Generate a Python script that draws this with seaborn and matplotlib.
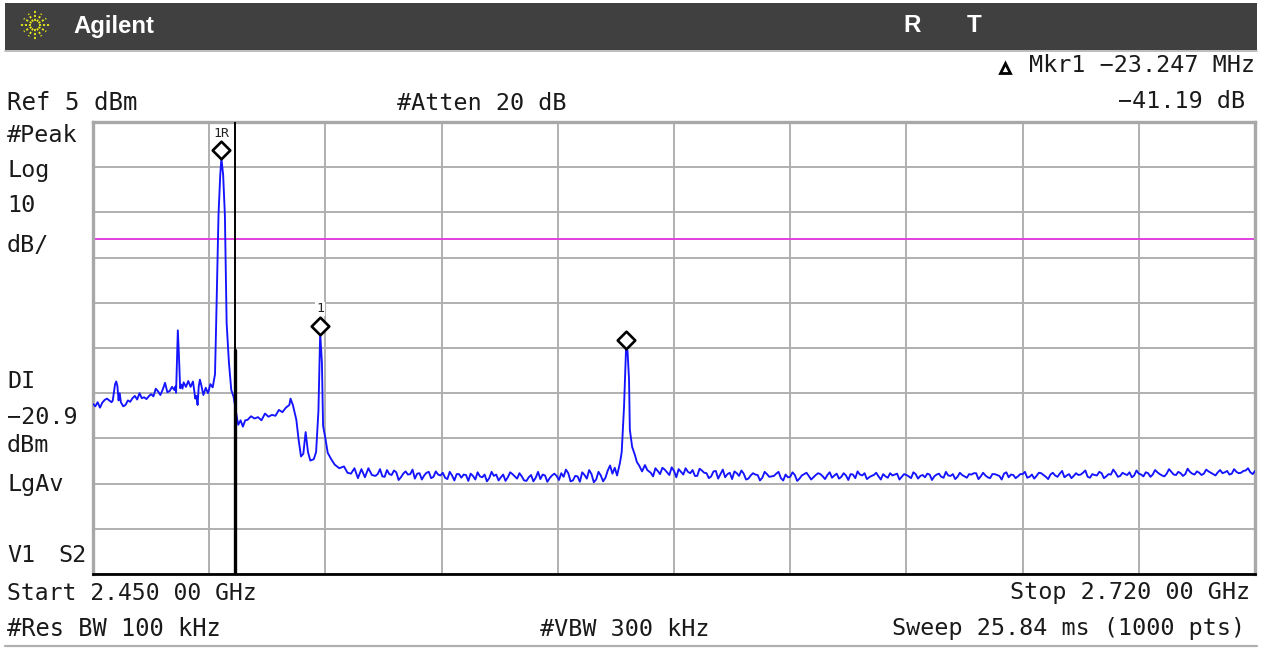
import numpy as np
import pandas as pd
import matplotlib
matplotlib.use("Agg")
import matplotlib.pyplot as plt
from matplotlib.patches import Rectangle
import seaborn as sns

# --- Data: trace, x in sweep points (0..1000), y in dBm
START_GHZ, STOP_GHZ, SWEEP_POINTS = 2.45, 2.72, 1000
REF_DBM, DB_PER_DIV, DIVS = 5, 10, 10
DISPLAY_LINE = -20.9

pedestal_pts = [0, 2, 4, 6, 8, 10, 12, 14, 16, 17, 19, 20, 21, 22, 23, 24, 26, 28, 30, 32, 34, 36, 38, 40,
                42, 44, 46, 48, 50, 52, 54, 56, 58, 60, 62, 64, 66, 68, 70, 71, 71.5, 72, 73, 74, 75, 76, 77, 78,
                80, 82, 84, 86, 87, 88, 89, 90, 91, 92, 93, 95, 97, 99, 101, 103, 105, 106, 108, 109.5, 110.5,
                112, 113.5, 115, 117, 119, 121]
pedestal_lvl = [-57.4, -57.9, -57.0, -58.2, -57.1, -56.5, -56.2, -56.6, -57.0, -56.6, -53.0, -52.4, -53.4, -56.6,
                -55.0, -57.0, -57.9, -57.6, -56.6, -56.9, -56.1, -55.6, -56.4, -55.0, -56.1, -55.9, -56.3, -55.7,
                -55.2, -55.7, -54.0, -54.6, -55.4, -54.2, -52.7, -54.8, -54.5, -53.6, -54.3, -53.5, -54.9,
                -50.0, -41.1, -47.0, -53.9, -53.1, -54.0, -52.6, -53.6, -52.3, -53.6, -52.4, -54.2, -56.2, -55.6,
                -57.6, -53.5, -52.0, -53.0, -55.4, -53.8, -55.0, -53.0, -53.7, -50.8, -39.5, -15.6, -6.7, -3.0,
                -6.7, -15.6, -39.5, -48.3, -54.3, -55.8]
shoulder_pts = [124, 125, 127, 129, 131, 133, 136, 139, 142, 145, 148, 151, 154, 157, 160, 163, 166, 169, 170,
                172, 175, 177, 179, 181, 183, 185, 187, 190, 192, 194, 195.5, 197, 198, 200, 202, 205, 208, 212,
                216, 219, 222, 225, 228, 231, 234, 237, 240, 243]
shoulder_lvl = [-60.6, -62.0, -61.0, -62.4, -61.0, -60.9, -60.1, -60.6, -60.3, -61.0, -59.5, -60.2, -59.8, -60.0,
                -58.7, -59.2, -58.2, -57.6, -56.2, -57.6, -60.9, -65.4, -69.0, -68.4, -63.6, -68.0, -69.9, -69.6,
                -68.0, -58.9, -41.7, -48.2, -62.2, -65.0, -68.2, -69.6, -70.8, -71.6, -71.2, -72.6, -72.8, -71.6,
                -73.8, -71.8, -73.6, -71.6, -73.1, -73.3]
floor_a_pts = np.arange(245, 445, 4)
floor_a_lvl = [-72.9, -73.4, -72.0, -73.1, -72.5, -73.6, -72.3, -72.9, -73.9, -72.7, -73.2, -72.4, -73.5, -73.0,
               -72.6, -74.0, -73.2, -72.9, -73.7, -73.1, -72.8, -74.1, -73.4, -73.0, -73.8, -73.3, -74.3, -73.0,
               -73.6, -72.9, -73.9, -73.4, -74.4, -73.1, -73.7, -74.0, -73.2, -73.8, -72.8, -74.2, -73.5, -72.7,
               -74.3, -73.4, -72.5, -73.9, -72.9, -74.1, -73.2, -73.7]
floor_a2_pts = np.arange(247, 445, 4)
floor_a2_lvl = [-71.8, -73.5, -72.9, -72.1, -74.2, -72.8, -73.0, -71.9, -72.8, -74.1, -72.6, -73.8, -72.3, -73.2,
                -73.7, -72.4, -74.3, -72.9, -73.0, -74.4, -73.3, -72.5, -73.6, -74.5, -72.4, -73.0, -73.6, -74.4,
                -72.5, -73.4, -72.7, -74.3, -73.6, -74.5, -72.4, -73.0, -74.6, -73.2, -73.3, -72.7, -71.9, -74.5,
                -73.3, -74.6, -73.1, -72.0, -74.7, -72.4, -74.5, -72.1]
peak2_pts = [445, 447, 449, 451, 453.5, 455, 457, 458.7, 460, 461.3, 462, 464, 466.4, 468, 470, 472.5, 475, 477]
peak2_lvl = [-71.0, -72.8, -71.5, -73.2, -70.4, -68.0, -58.0, -45.4, -45.6, -52.0, -63.1, -66.9, -68.7, -70.2,
             -71.0, -72.3, -70.9, -72.0]
floor_b_pts = np.arange(480, 1000, 4)
floor_b_lvl = [-72.6, -71.6, -72.9, -71.9, -73.1, -72.2, -71.8, -73.0, -72.4, -72.0, -73.3, -72.1, -72.7, -73.4,
               -72.2, -72.9, -73.6, -72.6, -72.3, -73.3, -72.8, -73.9, -72.7, -73.1, -73.7, -72.9, -73.4, -72.8,
               -73.8, -73.0, -73.5, -73.1, -73.9, -72.9, -73.3, -73.6, -72.7, -73.4, -73.1, -73.7, -72.8, -73.5,
               -73.2, -72.9, -73.8, -73.0, -72.7, -73.6, -73.1, -73.4, -72.9, -73.7, -73.2, -72.8, -73.5, -73.1,
               -73.8, -72.9, -73.3, -73.6, -73.0, -73.4, -72.8, -73.7, -73.2, -72.9, -73.5, -73.1, -73.7, -73.0,
               -72.7, -73.4, -73.2, -73.8, -72.9, -73.3, -72.8, -73.6, -73.1, -73.4, -72.9, -73.7, -73.0, -73.3,
               -72.7, -73.5, -73.0, -73.2, -72.8, -73.6, -72.9, -73.3, -73.1, -72.6, -73.5, -72.9, -73.2, -72.7,
               -73.4, -73.0, -72.6, -73.3, -72.9, -72.5, -73.2, -72.8, -73.4, -72.7, -73.0, -72.5, -73.2, -72.8,
               -72.4, -73.1, -72.7, -72.9, -72.4, -73.0, -72.6, -72.8, -72.3, -72.9, -72.5, -72.7, -72.2, -72.8,
               -72.4, -72.6, -72.1, -72.5]
floor_b2_pts = np.arange(482, 1000, 4)
floor_b2_lvl = [-73.4, -72.2, -71.5, -72.5, -71.4, -73.6, -72.4, -71.6, -72.7, -73.3, -71.7, -72.6, -73.8, -72.3,
                -73.9, -71.9, -72.9, -74.0, -72.7, -72.1, -74.1, -73.2, -73.0, -74.3, -72.4, -73.5, -73.3, -72.4,
                -74.3, -73.6, -72.5, -74.4, -73.2, -72.6, -74.1, -73.1, -72.9, -74.0, -72.5, -73.2, -73.9, -72.7,
                -74.2, -73.0, -72.3, -73.2, -74.0, -73.3, -72.6, -74.1, -73.4, -72.7, -73.0, -74.1, -72.9, -73.4,
                -72.5, -73.9, -73.1, -72.8, -74.2, -73.0, -73.5, -72.4, -73.3, -74.0, -72.6, -73.4, -72.9, -72.7,
                -74.0, -72.6, -73.6, -72.9, -73.1, -74.1, -72.5, -73.0, -73.8, -72.9, -72.4, -73.5, -73.9, -72.6,
                -73.1, -74.0, -72.6, -73.5, -72.2, -73.2, -73.8, -72.7, -73.0, -72.1, -73.7, -73.1, -72.4, -73.8,
                -72.9, -71.9, -73.5, -72.6, -73.1, -73.6, -72.1, -73.0, -72.5, -73.5, -72.0, -72.9, -73.4, -71.8,
                -73.0, -72.4, -73.3, -71.7, -72.8, -72.3, -73.1, -71.9, -72.6, -73.2, -72.0, -72.5, -73.0, -71.8,
                -72.7, -72.2, -71.6, -72.9]
end_pts = [1000]
end_lvl = [-72.2]

marker_pts = [110.2, 195.4, 458.7]
marker_lvl = [-1.2, -40.1, -43.2]
marker_labels = ["1R", "1", ""]
delta_marker_pt = 122.2

sweep = np.concatenate([pedestal_pts, shoulder_pts, floor_a_pts, floor_a2_pts, peak2_pts,
                        floor_b_pts, floor_b2_pts, end_pts])
level = np.concatenate([pedestal_lvl, shoulder_lvl, floor_a_lvl, floor_a2_lvl, peak2_lvl,
                        floor_b_lvl, floor_b2_lvl, end_lvl])
to_ghz = lambda p: START_GHZ + np.asarray(p) * (STOP_GHZ - START_GHZ) / SWEEP_POINTS
trace = pd.DataFrame({"freq": to_ghz(sweep), "dBm": level}).sort_values("freq")
markers = pd.DataFrame({"freq": to_ghz(marker_pts), "dBm": marker_lvl})

# --- Figure
W, H = 1266, 649
sns.set_theme(style="white")
plt.rcParams["font.family"] = ["DejaVu Sans Mono", "DejaVu Sans"]
fig = plt.figure(figsize=(W / 100, H / 100), dpi=100, facecolor="white")

L, R, T, B = 93, 1255, 122, 574
ax = fig.add_axes([L / W, 1 - B / H, (R - L) / W, (B - T) / H], facecolor="white")
GRID = "#b0b0b0"
ax.set_xlim(START_GHZ, STOP_GHZ)
ax.set_ylim(REF_DBM - DB_PER_DIV * DIVS, REF_DBM)
ax.set_xticks(np.linspace(START_GHZ, STOP_GHZ, DIVS + 1))
ax.set_yticks(np.arange(REF_DBM - DB_PER_DIV * DIVS, REF_DBM + 1, DB_PER_DIV))
ax.grid(True, color=GRID, lw=1.4)
ax.tick_params(length=0, labelbottom=False, labelleft=False)
ax.set_axisbelow(True)
for side in ("left", "top", "right"):
    ax.spines[side].set_color("#a8a8a8")
    ax.spines[side].set_linewidth(2.4)
ax.spines["bottom"].set_color("black")
ax.spines["bottom"].set_linewidth(2)

ax.axhline(DISPLAY_LINE, color="#e040e0", lw=1.4, zorder=2)
sns.lineplot(data=trace, x="freq", y="dBm", sort=False, estimator=None, ax=ax,
             color="#1414ff", lw=1.35, zorder=3)
ax.set_xlabel("")
ax.set_ylabel("")

# delta marker line: thin above, heavy below
dx = to_ghz(delta_marker_pt)
ax.plot([dx, dx], [REF_DBM, -45.5], color="black", lw=1.4, zorder=4)
ax.plot([dx, dx], [-45.5, REF_DBM - 100], color="black", lw=2.4, zorder=4)

sns.scatterplot(data=markers, x="freq", y="dBm", marker="D", s=80, facecolor="white",
                edgecolor="black", linewidth=1.9, ax=ax, zorder=5, legend=False)
ax.set_xlabel("")
ax.set_ylabel("")
for fx, fy, lab in zip(markers["freq"], markers["dBm"], marker_labels):
    if lab:
        ax.annotate(lab, (fx, fy), xytext=(0, 7.5), textcoords="offset points", ha="center", va="bottom",
                    fontsize=9.5, color="#222222", zorder=6,
                    bbox=dict(fc="white", ec="none", pad=0.5))

# --- Overlay in pixel coordinates for the instrument chrome
ov = fig.add_axes([0, 0, 1, 1], facecolor="none")
ov.set_xlim(0, W)
ov.set_ylim(H, 0)
ov.axis("off")
ov.add_patch(Rectangle((5, 3), 1252, 47, fc="#404040", ec="none"))
ov.plot([5, 1257], [50.5, 50.5], color="#b0b0b0", lw=1.2)
ov.plot([5, 1257], [646, 646], color="#b0b0b0", lw=1.6)

# Agilent starburst
angles = np.deg2rad(np.arange(0, 360, 30))
for a in angles:
    r0, r1 = (4, 15) if int(round(np.rad2deg(a))) % 90 == 0 else (4, 13)
    ov.plot([35 + r0 * np.cos(a), 35 + r1 * np.cos(a)], [25 + r0 * np.sin(a), 25 + r1 * np.sin(a)],
            color="#e8e818", lw=1.3, ls=(0, (1.2, 1)))

ov.text(73, 26, "Agilent", color="white", family="Liberation Sans", weight="bold", fontsize=17.2,
        ha="left", va="center")
ov.text(912, 25, "R", color="white", family="Liberation Sans", weight="bold", fontsize=17.5, ha="center", va="center")
ov.text(974, 25, "T", color="white", family="Liberation Sans", weight="bold", fontsize=17.5, ha="center", va="center")

ov.plot([1005], [68], marker="^", ms=6.5, mfc="white", mec="black", mew=2, ls="none")

TXT = dict(color="#1a1a1a", va="center")
left_labels = [("Ref 5 dBm", 7, 103, 17.3), ("#Peak", 7, 136, 16.8), ("Log", 7, 170, 16.8), ("10", 7, 205, 16.8),
               ("dB/", 7, 245, 16.8), ("DI", 7, 381, 16.8), ("\u221220.9", 7, 417, 16.8), ("dBm", 7, 445, 16.8),
               ("LgAv", 7, 484, 16.8), ("V1", 7, 555, 16.8), ("S2", 58, 555, 16.8), ("#Atten 20 dB", 397, 103, 16.8),
               ("Start 2.450 00 GHz", 7, 593, 16.6), ("#Res BW 100 kHz", 7, 629, 17.1), ("#VBW 300 kHz", 540, 629, 16.8)]
right_labels = [("Mkr1 \u221223.247 MHz", 1255, 66, 16.8), ("\u221241.19 dB", 1245, 102, 16.8),
                ("Stop 2.720 00 GHz", 1250, 593, 16.8), ("Sweep 25.84 ms (1000 pts)", 1245, 629, 16.8)]
for s, x, y, fs in left_labels:
    ov.text(x, y, s, ha="left", fontsize=fs, **TXT)
for s, x, y, fs in right_labels:
    ov.text(x, y, s, ha="right", fontsize=fs, **TXT)

fig.savefig("out.png", dpi=100, facecolor="white")
